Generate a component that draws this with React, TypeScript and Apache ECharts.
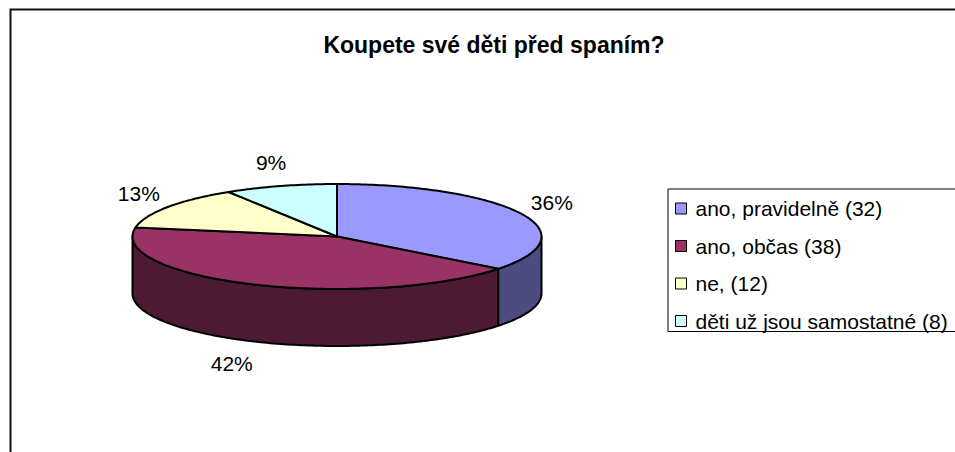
import React, { useEffect, useRef } from "react";
import * as echarts from "echarts";

const TITLE = "Koupete své děti před spaním?";
const CATEGORIES = [
  "ano, pravidelně (32)",
  "ano, občas (38)",
  "ne, (12)",
  "děti už jsou samostatné (8)",
];
const VALUES = [32, 38, 12, 8];
const TOP_COLORS = ["#9999FF", "#993366", "#FFFFCC", "#CCFFFF"];
const SIDE_COLORS = ["#4C4C80", "#4D1A33", "#80806A", "#6A8080"];

const FONT = "'Liberation Sans', Arial, sans-serif";

// layout of the 3D pie
const CX = 337;
const CY = 236.5;
const RX = 204.5;
const RY = 52.5;
const DEPTH = 57;

function pt(phi: number, dy: number): number[] {
  return [CX + RX * Math.sin(phi), CY - RY * Math.cos(phi) + dy];
}

function arc(a: number, b: number, dy: number): number[][] {
  const steps = Math.max(2, Math.ceil(Math.abs(b - a) / (Math.PI / 180)));
  const pts: number[][] = [];
  for (let k = 0; k <= steps; k++) {
    pts.push(pt(a + ((b - a) * k) / steps, dy));
  }
  return pts;
}

function makeRenderItem(i: number) {
  return (_params: any, api: any) => {
    const v = api.value(0) as number;
    const total = VALUES.reduce((s, x) => s + x, 0);
    const before = VALUES.slice(0, i).reduce((s, x) => s + x, 0);
    const a0 = (before / total) * Math.PI * 2;
    const a1 = ((before + v) / total) * Math.PI * 2;
    const children: any[] = [];
    const s = Math.max(a0, Math.PI / 2);
    const e = Math.min(a1, (Math.PI * 3) / 2);
    if (e > s) {
      const sidePts = [...arc(s, e, 0), ...arc(e, s, DEPTH)];
      children.push({
        type: "polygon",
        z2: 1,
        shape: { points: sidePts },
        style: {
          fill: SIDE_COLORS[i],
          stroke: "#000",
          lineWidth: 2,
          lineJoin: "round",
        },
      });
    }
    const topPts = [[CX, CY], ...arc(a0, a1, 0)];
    children.push({
      type: "polygon",
      z2: 2,
      shape: { points: topPts },
      style: {
        fill: TOP_COLORS[i],
        stroke: "#000",
        lineWidth: 2,
        lineJoin: "round",
      },
    });
    const mid = (a0 + a1) / 2;
    const sn = Math.sin(mid);
    const cs = Math.cos(mid);
    const edge = pt(mid, cs < 0 ? DEPTH : 0);
    const d = 13.5;
    const lx = edge[0] + d * sn + 21 * sn + (cs < 0 ? -8 : 0);
    const ly = edge[1] - d * cs - 11 * cs;
    children.push({
      type: "text",
      z2: 3,
      style: {
        text: Math.round((v / total) * 100) + "%",
        x: lx,
        y: ly,
        align: "center",
        verticalAlign: "middle",
        fontSize: 21,
        fontFamily: FONT,
        fill: "#000",
      },
    });
    return { type: "group", children };
  };
}

export default function App() {
  const ref = useRef<HTMLDivElement>(null);
  useEffect(() => {
    if (!ref.current) return;
    const chart = echarts.init(ref.current, undefined, { renderer: "svg" });
    const series = CATEGORIES.map((name, i) => ({
      type: "custom",
      name,
      coordinateSystem: "none",
      data: [[VALUES[i]]],
      itemStyle: { color: TOP_COLORS[i] },
      renderItem: makeRenderItem(i),
    }));
    chart.setOption({
      animation: false,
      backgroundColor: "#fff",
      title: {
        text: TITLE,
        left: 489,
        top: 28,
        textAlign: "center",
        textStyle: {
          fontSize: 23,
          fontWeight: "bold",
          fontFamily: FONT,
          color: "#000",
        },
      },
      legend: {
        data: CATEGORIES,
        orient: "vertical",
        left: 668,
        top: 189,
        padding: [9, 40, 0, 7],
        borderColor: "#000",
        borderWidth: 1,
        itemWidth: 11,
        itemHeight: 11,
        itemGap: 16.5,
        icon: "rect",
        itemStyle: { borderColor: "#000", borderWidth: 1 },
        textStyle: {
          fontSize: 21,
          lineHeight: 21,
          fontFamily: FONT,
          color: "#000",
          padding: [0, 0, 0, 4],
        },
        selectedMode: false,
      },
      graphic: [
        {
          type: "rect",
          shape: { x: 10.5, y: 9.5, width: 1200, height: 1200 },
          style: { fill: "none", stroke: "#111", lineWidth: 2 },
          silent: true,
        },
      ],
      series,
    });
    return () => chart.dispose();
  }, []);
  return (
    <div
      ref={ref}
      style={{ position: "absolute", left: 0, top: 0, width: 955, height: 452 }}
    />
  );
}
